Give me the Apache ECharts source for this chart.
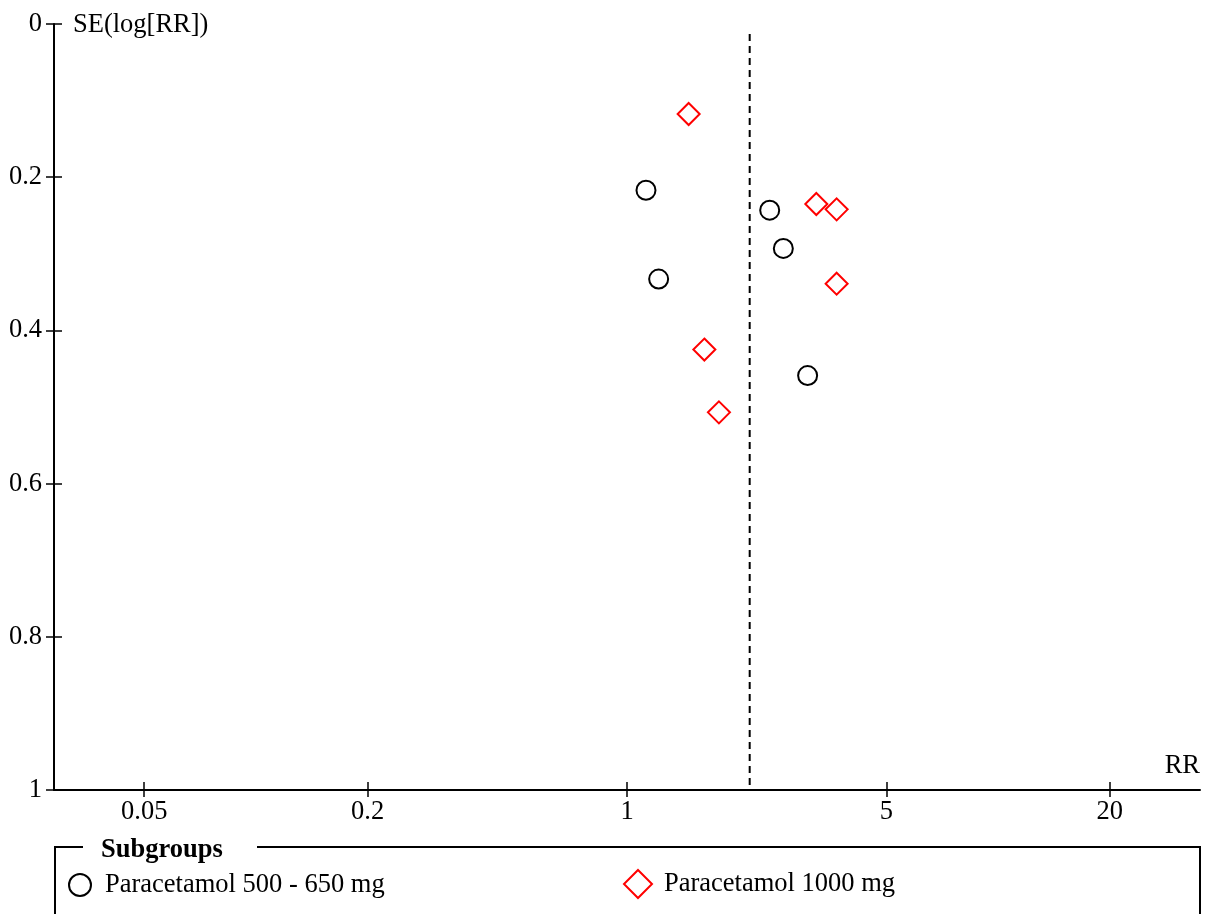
<!DOCTYPE html>
<html><head><meta charset="utf-8">
<script src="https://cdn.jsdelivr.net/npm/echarts@6/dist/echarts.min.js"></script>
<style>html,body{margin:0;padding:0;background:#fff}#c{width:1208px;height:914px}</style>
</head><body><div id="c"></div>
<script>
// ---- data ----
const xTicks = [0.05, 0.2, 1, 5, 20];
const yTicks = [0, 0.2, 0.4, 0.6, 0.8, 1];
const seriesNames = ['Paracetamol 500 - 650 mg', 'Paracetamol 1000 mg'];
const rr500 = [1.125, 1.217, 2.424, 2.638, 3.067];
const se500 = [0.217, 0.333, 0.243, 0.293, 0.459];
const rr1000 = [1.466, 3.237, 3.672, 3.672, 1.616, 1.769];
const se1000 = [0.1175, 0.235, 0.242, 0.339, 0.425, 0.507];
const pooledRR = 2.141;
const pooledSE = [0.013, 1];
const xRange = [1 / 35, 35];
const yRange = [0, 1];

// ---- build ----
const FONT = 'Liberation Serif';
const FS = 26.5;
const lg = v => Math.log10(v);
const pts = (rr, se) => rr.map((r, i) => [lg(r), se[i]]);
const xMin = lg(xRange[0]), xMax = lg(xRange[1]);

const chart = echarts.init(document.getElementById('c'), null, {renderer: 'canvas'});
const xBase = {
  type: 'value', min: xMin, max: xMax, position: 'bottom', gridIndex: 0,
  splitLine: {show: false}
};
const yBase = {
  type: 'value', min: yRange[0], max: yRange[1], inverse: true, position: 'left',
  splitLine: {show: false}
};
chart.setOption({
  animation: false,
  grid: {left: 54, right: 8, top: 24, bottom: 124, containLabel: false},
  xAxis: [
    Object.assign({}, xBase, {
      axisLine: {show: true, onZero: false, lineStyle: {color: '#000', width: 2}},
      axisTick: {show: true, inside: false, length: 7, customValues: xTicks.map(lg), lineStyle: {color: '#000', width: 1.5}},
      axisLabel: {show: true, customValues: xTicks.map(lg), margin: 9, color: '#000', fontFamily: FONT, fontSize: FS,
        formatter: v => String(Math.round(Math.pow(10, v) * 100) / 100)}
    }),
    Object.assign({}, xBase, {
      axisLine: {show: false, onZero: false},
      axisTick: {show: true, inside: true, length: 8, customValues: xTicks.map(lg), lineStyle: {color: '#000', width: 1.5}},
      axisLabel: {show: false}
    })
  ],
  yAxis: [
    Object.assign({}, yBase, {
      axisLine: {show: true, onZero: false, lineStyle: {color: '#000', width: 2}},
      axisTick: {show: true, inside: false, length: 8, customValues: yTicks, lineStyle: {color: '#000', width: 1.5}},
      axisLabel: {show: true, customValues: yTicks, margin: 12, color: '#000', fontFamily: FONT, fontSize: FS,
        padding: [4, 0, 0, 0]}
    }),
    Object.assign({}, yBase, {
      axisLine: {show: false, onZero: false},
      axisTick: {show: true, inside: true, length: 8, customValues: yTicks, lineStyle: {color: '#000', width: 1.5}},
      axisLabel: {show: false}
    })
  ],
  legend: [
    {data: [seriesNames[0]], left: 68, top: 871, padding: 0, itemWidth: 22, itemHeight: 22,
      textStyle: {fontFamily: FONT, fontSize: FS, color: '#000', lineHeight: 26, padding: [2, 0, 0, 9]},
      itemStyle: {borderWidth: 2}, selectedMode: false},
    {data: [seriesNames[1]], left: 623, top: 869, padding: 0, itemWidth: 28, itemHeight: 28,
      textStyle: {fontFamily: FONT, fontSize: FS, color: '#000', lineHeight: 26, padding: [2, 0, 0, 7]},
      itemStyle: {borderWidth: 2}, selectedMode: false}
  ],
  graphic: [
    {type: 'text', left: 73, top: 12, style: {text: 'SE(log[RR])', font: FS + 'px "Liberation Serif"', fill: '#000'}},
    {type: 'text', right: 8, top: 753, style: {text: 'RR', font: FS + 'px "Liberation Serif"', fill: '#000'}},
    {type: 'polyline', shape: {points: [[83, 847], [55, 847], [55, 920]]}, style: {stroke: '#000', lineWidth: 2, fill: null}},
    {type: 'polyline', shape: {points: [[257, 847], [1200, 847], [1200, 920]]}, style: {stroke: '#000', lineWidth: 2, fill: null}},
    {type: 'text', left: 101, top: 837, style: {text: 'Subgroups', font: 'bold ' + FS + 'px "Liberation Serif"', fill: '#000'}}
  ],
  series: [
    {type: 'line', name: 'pooled', data: [[lg(pooledRR), pooledSE[0]], [lg(pooledRR), pooledSE[1]]],
      symbol: 'none', silent: true, lineStyle: {color: '#000', width: 2, type: [7, 5]}, z: 1},
    {type: 'scatter', name: seriesNames[0], data: pts(rr500, se500), symbol: 'circle', symbolSize: 19,
      itemStyle: {color: '#fff', borderColor: '#000', borderWidth: 2, opacity: 1}, z: 3},
    {type: 'scatter', name: seriesNames[1], data: pts(rr1000, se1000), symbol: 'diamond', symbolSize: 22,
      itemStyle: {color: '#fff', borderColor: '#ff0000', borderWidth: 2, opacity: 1}, z: 3}
  ]
});
</script></body></html>
